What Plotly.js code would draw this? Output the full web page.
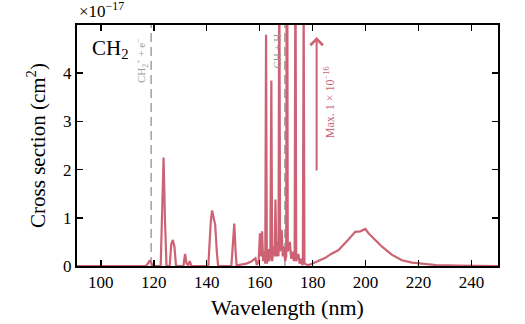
<!DOCTYPE html>
<html>
<head>
<meta charset="utf-8">
<script src="https://cdn.plot.ly/plotly-3.0.1.min.js"></script>
<style>html,body{margin:0;padding:0;background:#fff;}#chart{width:525px;height:324px;}</style>
</head>
<body>
<div id="chart"></div>
<script>
// Wavelength (nm)
const wavelength = [
  91, 117, 117.8, 118.5, 119.2, 119.8,
  122.6, 123.2, 123.7, 124.2, 124.8,
  126.0, 126.6, 127.2, 127.8, 128.4,
  131.2, 131.8, 132.4, 133.0, 133.6, 134.2,
  140.6, 141.5, 142.0, 142.6, 143.2, 143.8, 144.3,
  149.3, 150.0, 150.4, 150.9, 151.3,
  152.0, 155.0, 157.0, 158.0, 158.4, 158.9,
  159.6, 160.1, 160.5, 160.9, 161.3, 161.7, 162.1,
  162.4, 162.7, 163.2, 163.6, 164.0, 164.4, 164.7,
  165.2, 165.6, 165.95, 166.3, 166.8, 167.1, 167.4, 167.7,
  168.3, 168.7, 169.1, 169.6, 170.0, 170.3, 170.6,
  171.4, 171.9, 172.4, 172.9, 173.2, 173.5, 173.8,
  174.6, 175.1, 175.6, 176.1, 176.3, 176.6, 176.9,
  177.6, 178.5, 180.0, 182.0, 184.8, 187.0, 189.8, 193.0, 196.1,
  198.0, 199.9, 201.1, 203.7, 206.2, 210.0, 213.7, 217.5, 222.0,
  226.6, 235.0, 250.0
];
// Cross section (units of 1e-17 cm^2)
const crossSection = [
  0, 0, 0.05, 0.12, 0.05, 0,
  0, 1.2, 2.25, 1.0, 0,
  0, 0.45, 0.54, 0.4, 0,
  0, 0.25, 0.05, 0.02, 0.1, 0,
  0, 0.9, 1.15, 1.0, 0.85, 0.3, 0,
  0, 0.6, 0.88, 0.3, 0,
  0.02, 0.05, 0.1, 0.15, 0.16, 0.02,
  0.1, 0.68, 0.2, 0.72, 0.1, 0.3, 0.05,
  4.8, 0.05, 0.35, 0.1, 0.2, 3.85, 0.1,
  0.4, 0.2, 1.38, 0.2, 0.5, 0.2, 6.5, 0.3,
  0.75, 0.2, 0.4, 0.1, 0.2, 10.0, 0.3,
  0.5, 0.15, 0.3, 0.1, 0.2, 7.0, 0.1,
  0.25, 0.05, 0.15, 0.02, 0.05, 5.5, 0.05,
  0.03, 0.02, 0.05, 0.1, 0.17, 0.25, 0.33, 0.52, 0.71,
  0.72, 0.77, 0.68, 0.54, 0.4, 0.23, 0.12, 0.07, 0.04,
  0.02, 0.01, 0
];
// Ionisation / dissociation thresholds (nm)
const thresholdX = [119, 169.5];
const thresholdLabels = ['CH<sub>2</sub><sup>+</sup> + e<sup>−</sup>', 'CH + H'];
const thresholdLabelX = [115.5, 166.2];
const thresholdLabelY = [4.25, 4.45];

const xTicks = [100, 120, 140, 160, 180, 200, 220, 240];
const yTicks = [0, 1, 2, 3, 4];

const lineColor = '#cd6275';
const fontFam = '"Liberation Serif", "DejaVu Serif", serif';

const traces = [];
thresholdX.forEach(function (tx) {
  traces.push({
    x: [tx, tx], y: [0, 5], mode: 'lines', type: 'scatter',
    line: {color: '#a0a0a0', width: 1.5, dash: '9px,5px'},
    hoverinfo: 'skip', showlegend: false
  });
});
traces.push({
  x: wavelength, y: crossSection, mode: 'lines', type: 'scatter',
  line: {color: lineColor, width: 2.2}, showlegend: false
});

const annotations = [
  {xref: 'paper', yref: 'paper', x: 0, y: 1.01, xanchor: 'left', yanchor: 'bottom',
   text: '×10<sup>−17</sup>', showarrow: false, font: {family: fontFam, size: 17, color: '#000'}},
  {xref: 'paper', yref: 'paper', x: 0.03, y: 0.9, xanchor: 'left', yanchor: 'middle',
   text: 'CH<sub>2</sub>', showarrow: false, font: {family: fontFam, size: 21, color: '#000'}},
  {xref: 'x', yref: 'y', axref: 'x', ayref: 'y', x: 181.5, y: 4.75, ax: 181.5, ay: 1.95,
   text: '', showarrow: true, arrowhead: 4, arrowsize: 1.2, arrowwidth: 2, arrowcolor: lineColor},
  {xref: 'x', yref: 'y', x: 186.2, y: 3.4, text: 'Max. 1 × 10<sup>−16</sup>', textangle: -90,
   showarrow: false, font: {family: fontFam, size: 12, color: lineColor}}
];
thresholdLabels.forEach(function (t, i) {
  annotations.push({xref: 'x', yref: 'y', x: thresholdLabelX[i], y: thresholdLabelY[i], text: t,
    textangle: -90, showarrow: false, font: {family: fontFam, size: 11, color: '#999'}});
});

const layout = {
  width: 525, height: 324,
  margin: {l: 77, r: 27, t: 25, b: 58},
  paper_bgcolor: '#fff', plot_bgcolor: '#fff',
  font: {family: fontFam, color: '#000'},
  xaxis: {
    range: [91, 250], tickvals: xTicks, ticks: 'inside', ticklen: 6, tickwidth: 1.5,
    tickcolor: '#000', showline: true, linecolor: '#000', linewidth: 2, mirror: 'ticks',
    showgrid: false, zeroline: false, tickfont: {family: fontFam, size: 17},
    title: {text: 'Wavelength (nm)', font: {family: fontFam, size: 22}, standoff: 8}
  },
  yaxis: {
    range: [0, 5], tickvals: yTicks, ticks: 'inside', ticklen: 6, tickwidth: 1.5,
    tickcolor: '#000', showline: true, linecolor: '#000', linewidth: 2, mirror: 'ticks',
    showgrid: false, zeroline: false, tickfont: {family: fontFam, size: 17},
    title: {text: 'Cross section (cm<sup>2</sup>)', font: {family: fontFam, size: 21}, standoff: 12}
  },
  annotations: annotations
};

Plotly.newPlot('chart', traces, layout, {staticPlot: true, displayModeBar: false});
</script>
</body>
</html>
